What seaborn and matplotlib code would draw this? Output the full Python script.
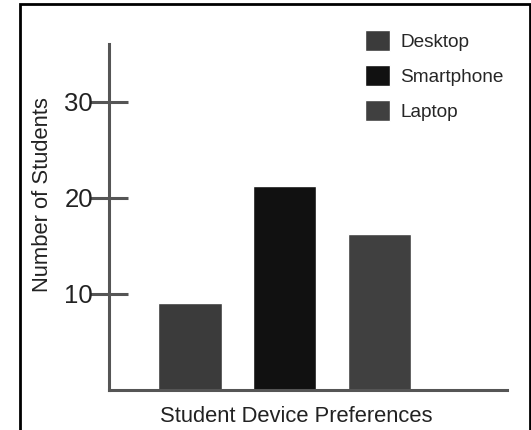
import matplotlib
matplotlib.use("Agg")
import matplotlib.pyplot as plt
import seaborn as sns
from matplotlib.patches import Rectangle

# Data
devices = ["Desktop", "Smartphone", "Laptop"]
students = [9.1, 21.2, 16.2]
bar_colors = ["#3b3b3b", "#111111", "#404040"]
y_ticks = [10, 20, 30]

sns.set_theme(style="white")
plt.rcParams["font.family"] = ["Liberation Sans", "DejaVu Sans"]

fig = plt.figure(figsize=(5.31, 4.30), dpi=100)
ax = fig.add_axes([0.205, 0.093, 0.75, 0.805])

sns.barplot(
    x=devices,
    y=students,
    hue=devices,
    palette=bar_colors,
    width=0.667,
    legend=True,
    ax=ax,
)

ax.set_xlim(-0.857, 3.35)
ax.set_ylim(0, 36)
ax.set_yticks(y_ticks)
ax.set_xticks([])
ax.set_xlabel("Student Device Preferences", fontsize=15.8, color="#222222")
ax.set_ylabel("Number of Students", fontsize=15.8, color="#222222")
ax.xaxis.set_label_coords(0.47, -0.047)
ax.yaxis.set_label_coords(-0.14, 0.564)
ax.tick_params(axis="y", left=True, direction="inout", length=27, width=2.2,
               color="#555555", labelsize=18.5, labelcolor="#222222", pad=-2)

for side in ["top", "right"]:
    ax.spines[side].set_visible(False)
for side in ["left", "bottom"]:
    ax.spines[side].set_color("#555555")
    ax.spines[side].set_linewidth(2.2)

ax.legend(
    loc="upper left",
    bbox_to_anchor=(0.60, 1.09),
    frameon=False,
    fontsize=13.7,
    handlelength=1.3,
    handleheight=1.3,
    labelspacing=0.75,
    handletextpad=0.55,
)

# outer frame
fig.add_artist(Rectangle((0.038, -0.01), 0.96, 1.0, transform=fig.transFigure,
                         fill=False, edgecolor="black", linewidth=2))

fig.savefig("out.png", dpi=100)
